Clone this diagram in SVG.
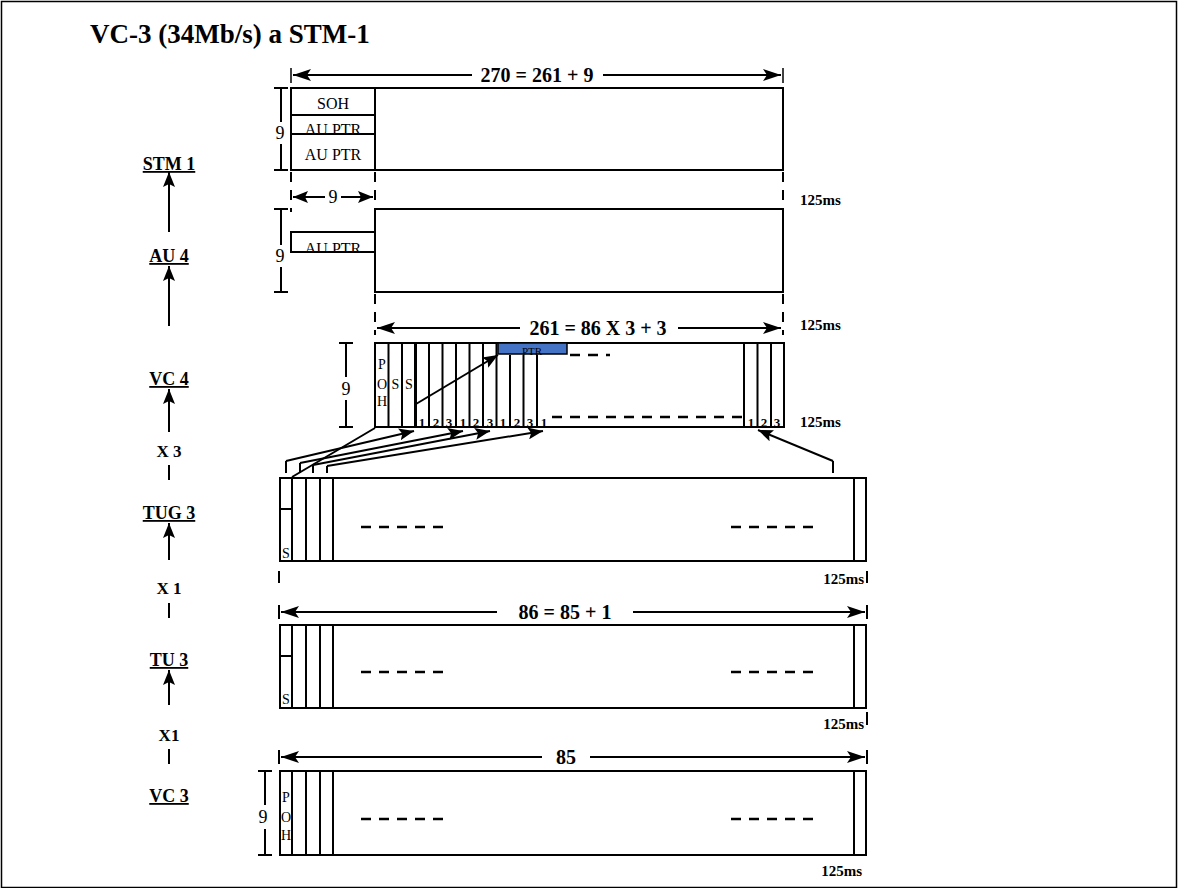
<svg xmlns="http://www.w3.org/2000/svg" width="1179" height="888" viewBox="0 0 1179 888">
<style>
text{font-family:"Liberation Serif","Times New Roman",serif;fill:#000}
.b{font-weight:bold}
.lbl{font-weight:bold;font-size:18px;text-anchor:middle;text-decoration:underline}
.x{font-weight:bold;font-size:17px;text-anchor:middle}
.dim{font-weight:bold;font-size:20px;text-anchor:middle}
.sm{font-size:16px;text-anchor:middle}
.ms{font-weight:bold;font-size:15px}
.num{font-weight:bold;font-size:13px;text-anchor:middle}
.l{font-size:14px;text-anchor:middle}
.bx{fill:#fff;stroke:#000;stroke-width:2}
.ln{stroke:#000;stroke-width:2;fill:none}
.thin{stroke:#000;stroke-width:1.5;fill:none}
.dash{stroke:#000;stroke-width:2.5;stroke-dasharray:10 8;fill:none}
.vd{stroke:#000;stroke-width:2;stroke-dasharray:10 8;fill:none}
</style>
<defs>
<marker id="ah" viewBox="0 0 18 12" refX="18" refY="6" markerWidth="18" markerHeight="12" markerUnits="userSpaceOnUse" orient="auto-start-reverse"><path d="M0,0 L18,6 L0,12 L4,6 Z" fill="#000"/></marker>
<marker id="as" viewBox="0 0 15 12" refX="15" refY="6" markerWidth="15" markerHeight="12" markerUnits="userSpaceOnUse" orient="auto-start-reverse"><path d="M0,0 L15,6 L0,12 L3,6 Z" fill="#000"/></marker>
<clipPath id="c1"><rect x="292" y="232" width="82" height="19"/></clipPath>
<clipPath id="c2"><rect x="292" y="116" width="82" height="17"/></clipPath>
</defs>
<rect x="1.5" y="1.5" width="1175" height="886" fill="#fff" stroke="#000" stroke-width="1.5"/>
<g id="title"><text x="90" y="43" class="b" font-size="27">VC-3 (34Mb/s) a STM-1</text></g>

<g id="left-labels">
<text x="169" y="170" class="lbl">STM 1</text>
<text x="169" y="262" class="lbl">AU 4</text>
<text x="169" y="385" class="lbl">VC 4</text>
<text x="169" y="457" class="x">X 3</text>
<text x="169" y="519" class="lbl">TUG 3</text>
<text x="169" y="594" class="x">X 1</text>
<text x="169" y="666" class="lbl">TU 3</text>
<text x="169" y="741" class="x">X1</text>
<text x="169" y="802" class="lbl">VC 3</text>
</g>

<g id="stm1">
<line class="thin" x1="291" y1="68" x2="291" y2="83"/><line class="thin" x1="783" y1="68" x2="783" y2="83"/>
<line class="ln" x1="293" y1="75" x2="472" y2="75" marker-start="url(#ah)"/>
<line class="ln" x1="603" y1="75" x2="781" y2="75" marker-end="url(#ah)"/>
<text x="537" y="82" class="dim">270 = 261 + 9</text>
<rect class="bx" x="291" y="88" width="492" height="82"/>
<line class="ln" x1="375" y1="88" x2="375" y2="170"/>
<line class="ln" x1="291" y1="115" x2="375" y2="115"/>
<line class="ln" x1="291" y1="134" x2="375" y2="134"/>
<text x="333" y="109" class="sm">SOH</text>
<text x="333" y="135" class="sm" clip-path="url(#c2)">AU PTR</text>
<text x="333" y="160" class="sm">AU PTR</text>
<line class="ln" x1="281" y1="88" x2="281" y2="122"/><line class="ln" x1="281" y1="144" x2="281" y2="170"/>
<line class="ln" x1="274" y1="88" x2="288" y2="88"/><line class="ln" x1="274" y1="170" x2="288" y2="170"/>
<text x="280" y="139" font-size="18" text-anchor="middle">9</text>
<line class="vd" x1="291" y1="172" x2="291" y2="212"/>
<line class="vd" x1="375" y1="172" x2="375" y2="202"/>
<line class="vd" x1="783" y1="172" x2="783" y2="216"/>
<text x="800" y="205" class="ms">125ms</text>
</g>

<g id="au4">
<line class="ln" x1="293" y1="197" x2="325" y2="197" marker-start="url(#as)"/>
<line class="ln" x1="341" y1="197" x2="373" y2="197" marker-end="url(#as)"/>
<text x="333" y="203" font-size="18" text-anchor="middle">9</text>
<rect class="bx" x="375" y="209" width="408" height="83"/>
<rect class="bx" x="291" y="232" width="84" height="20"/>
<text x="333" y="254" class="sm" clip-path="url(#c1)">AU PTR</text>
<line class="ln" x1="281" y1="209" x2="281" y2="245"/><line class="ln" x1="281" y1="267" x2="281" y2="292"/>
<line class="ln" x1="274" y1="209" x2="288" y2="209"/><line class="ln" x1="274" y1="292" x2="288" y2="292"/>
<text x="280" y="262" font-size="18" text-anchor="middle">9</text>
<line class="vd" x1="375" y1="294" x2="375" y2="335"/>
<line class="vd" x1="783" y1="294" x2="783" y2="335"/>
<text x="800" y="330" class="ms">125ms</text>
<line class="ln" x1="377" y1="328" x2="520" y2="328" marker-start="url(#ah)"/>
<line class="ln" x1="678" y1="328" x2="781" y2="328" marker-end="url(#ah)"/>
<text x="598" y="335" class="dim">261 = 86 X 3 + 3</text>
</g>

<g id="vc4">
<rect class="bx" x="375" y="343" width="409" height="84"/>
<g class="ln">
<line x1="388.5" y1="343" x2="388.5" y2="427"/><line x1="402" y1="343" x2="402" y2="427"/>
<line x1="415.5" y1="343" x2="415.5" y2="427" stroke-width="3"/><line x1="429" y1="343" x2="429" y2="427"/>
<line x1="442.5" y1="343" x2="442.5" y2="427"/><line x1="456" y1="343" x2="456" y2="427"/>
<line x1="469.5" y1="343" x2="469.5" y2="427"/><line x1="483" y1="343" x2="483" y2="427"/>
<line x1="496.5" y1="343" x2="496.5" y2="427"/>
<line x1="510" y1="355" x2="510" y2="427"/><line x1="523.5" y1="355" x2="523.5" y2="427"/>
<line x1="537" y1="355" x2="537" y2="427"/>
<line x1="744" y1="343" x2="744" y2="427"/><line x1="757.5" y1="343" x2="757.5" y2="427"/>
<line x1="771" y1="343" x2="771" y2="427"/>
</g>
<rect x="498" y="343" width="69" height="11" fill="#4472C4" stroke="#000" stroke-width="1.5"/>
<text x="532" y="355" font-size="11" text-anchor="middle" fill="#1f2f5a">PTR</text>
<line class="dash" x1="570" y1="355" x2="610" y2="355" stroke-width="2"/>
<line class="dash" x1="552" y1="417" x2="744" y2="417" stroke-width="2"/>
<text x="382" y="369" class="l">P</text>
<text x="382" y="389" class="l">O</text>
<text x="382" y="406" class="l">H</text>
<text x="395.5" y="389" class="l">S</text>
<text x="409" y="389" class="l">S</text>
<g class="num">
<text x="422" y="427">1</text><text x="436" y="427">2</text><text x="449" y="427">3</text>
<text x="463" y="427">1</text><text x="476" y="427">2</text><text x="490" y="427">3</text>
<text x="503" y="427">1</text><text x="517" y="427">2</text><text x="530" y="427">3</text>
<text x="544" y="427">1</text>
<text x="751" y="427">1</text><text x="764" y="427">2</text><text x="777" y="427">3</text>
</g>
<line class="ln" x1="346" y1="343" x2="346" y2="377"/><line class="ln" x1="346" y1="400" x2="346" y2="427"/>
<line class="ln" x1="339" y1="343" x2="353" y2="343"/><line class="ln" x1="339" y1="427" x2="353" y2="427"/>
<text x="346" y="395" font-size="18" text-anchor="middle">9</text>
<text x="800" y="427" class="ms">125ms</text>
</g>

<g id="tug3">
<rect class="bx" x="280" y="478" width="586" height="83"/>
<g class="ln"><line x1="292" y1="478" x2="292" y2="561"/><line x1="306" y1="478" x2="306" y2="561"/><line x1="320" y1="478" x2="320" y2="561"/><line x1="333" y1="478" x2="333" y2="561"/><line x1="854" y1="478" x2="854" y2="561"/><line x1="280" y1="509" x2="292" y2="509"/></g>
<text x="286" y="558" class="l">S</text>
<line class="dash" x1="361" y1="527" x2="443" y2="527"/>
<line class="dash" x1="731" y1="527" x2="813" y2="527"/>
<line class="ln" x1="279" y1="571" x2="279" y2="583"/>
<line class="ln" x1="867" y1="571" x2="867" y2="583"/>
<text x="864" y="584" class="ms" text-anchor="end">125ms</text>
</g>

<g id="tu3">
<line class="ln" x1="279" y1="605" x2="279" y2="619"/><line class="ln" x1="867" y1="605" x2="867" y2="619"/>
<line class="ln" x1="281" y1="612" x2="497" y2="612" marker-start="url(#ah)"/>
<line class="ln" x1="633" y1="612" x2="865" y2="612" marker-end="url(#ah)"/>
<text x="565" y="619" class="dim">86 = 85 + 1</text>
<rect class="bx" x="280" y="625" width="586" height="83"/>
<g class="ln"><line x1="292" y1="625" x2="292" y2="708"/><line x1="306" y1="625" x2="306" y2="708"/><line x1="320" y1="625" x2="320" y2="708"/><line x1="333" y1="625" x2="333" y2="708"/><line x1="854" y1="625" x2="854" y2="708"/><line x1="280" y1="656" x2="292" y2="656"/></g>
<text x="286" y="704" class="l">S</text>
<line class="dash" x1="361" y1="672" x2="443" y2="672"/>
<line class="dash" x1="731" y1="672" x2="813" y2="672"/>
<line class="ln" x1="867" y1="712" x2="867" y2="725"/>
<text x="864" y="729" class="ms" text-anchor="end">125ms</text>
</g>

<g id="vc3">
<line class="ln" x1="279" y1="750" x2="279" y2="764"/><line class="ln" x1="867" y1="750" x2="867" y2="764"/>
<line class="ln" x1="281" y1="757" x2="542" y2="757" marker-start="url(#ah)"/>
<line class="ln" x1="590" y1="757" x2="865" y2="757" marker-end="url(#ah)"/>
<text x="566" y="764" class="dim">85</text>
<rect class="bx" x="280" y="771" width="586" height="84"/>
<g class="ln"><line x1="292" y1="771" x2="292" y2="855"/><line x1="306" y1="771" x2="306" y2="855"/><line x1="320" y1="771" x2="320" y2="855"/><line x1="333" y1="771" x2="333" y2="855"/><line x1="854" y1="771" x2="854" y2="855"/></g>
<text x="286" y="802" class="l">P</text>
<text x="286" y="822" class="l">O</text>
<text x="286" y="840" class="l">H</text>
<line class="dash" x1="361" y1="819" x2="443" y2="819"/>
<line class="dash" x1="731" y1="819" x2="813" y2="819"/>
<line class="ln" x1="265" y1="771" x2="265" y2="805"/><line class="ln" x1="265" y1="829" x2="265" y2="855"/>
<line class="ln" x1="258" y1="771" x2="272" y2="771"/><line class="ln" x1="258" y1="855" x2="272" y2="855"/>
<text x="263" y="823" font-size="18" text-anchor="middle">9</text>
<text x="862" y="876" class="ms" text-anchor="end">125ms</text>
</g>

<g id="connectors">
<line class="ln" x1="169" y1="232" x2="169" y2="172" marker-end="url(#as)"/>
<line class="ln" x1="169" y1="326" x2="169" y2="266" marker-end="url(#as)"/>
<line class="ln" x1="169" y1="432" x2="169" y2="389" marker-end="url(#as)"/>
<line class="ln" x1="169" y1="465" x2="169" y2="480"/>
<line class="ln" x1="169" y1="560" x2="169" y2="523" marker-end="url(#as)"/>
<line class="ln" x1="169" y1="603" x2="169" y2="618"/>
<line class="ln" x1="169" y1="705" x2="169" y2="670" marker-end="url(#as)"/>
<line class="ln" x1="169" y1="749" x2="169" y2="764"/>
<line class="ln" x1="286" y1="473" x2="286" y2="461"/><line class="ln" x1="286" y1="461" x2="414" y2="431" marker-end="url(#as)"/>
<line class="ln" x1="300" y1="473" x2="300" y2="463"/><line class="ln" x1="300" y1="463" x2="463" y2="431" marker-end="url(#as)"/>
<line class="ln" x1="313" y1="473" x2="313" y2="465"/><line class="ln" x1="313" y1="465" x2="490" y2="431" marker-end="url(#as)"/>
<line class="ln" x1="327" y1="473" x2="327" y2="466"/><line class="ln" x1="327" y1="466" x2="543" y2="431" marker-end="url(#as)"/>
<line class="ln" x1="292" y1="477" x2="375" y2="428"/>
<line class="ln" x1="416" y1="404" x2="498" y2="355" marker-end="url(#as)"/>
<line class="ln" x1="833" y1="473" x2="833" y2="461"/><line class="ln" x1="833" y1="461" x2="758" y2="430" marker-end="url(#as)"/>
</g>
</svg>
